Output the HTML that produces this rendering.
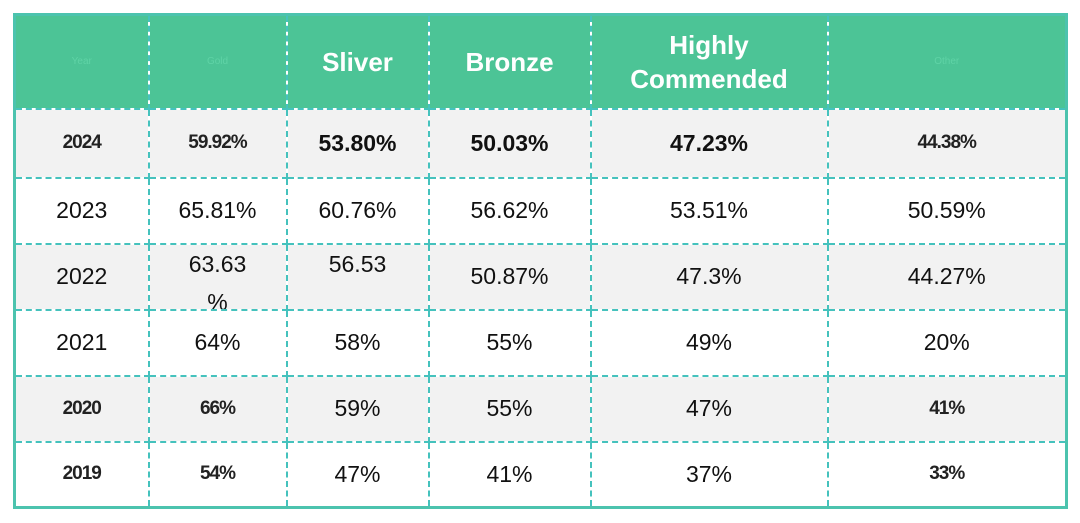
<!DOCTYPE html>
<html><head><meta charset="utf-8"><style>
body{margin:0;width:1080px;height:523px;background:#fff;font-family:"Liberation Sans","DejaVu Sans",sans-serif;overflow:hidden}
table{position:absolute;left:13px;top:13px;width:1054px;height:496px;border-collapse:collapse;border:3px solid #4cc3ae;table-layout:fixed}
td,th{border:2px dashed #45c2bd;text-align:center;font-size:23px;color:#111;padding:0;overflow:hidden}
th{background:#4cc496;color:#fff;font-weight:bold;font-size:26px;line-height:34px}
th.f{color:#5fd3a6;font-size:10px;font-weight:normal}
tr.g td{background:#f2f2f2}
td.b{font-weight:bold}
td.x{font-weight:bold;letter-spacing:-1px;font-size:19px;color:#222}
.clip{height:64px;overflow:hidden;line-height:38px}
</style></head><body>
<table>
<colgroup><col style="width:134px"><col style="width:138px"><col style="width:142px"><col style="width:162px"><col style="width:237px"><col style="width:239px"></colgroup>
<tr style="height:94px">
<th class="f">Year</th>
<th class="f">Gold</th>
<th>Sliver</th>
<th>Bronze</th>
<th>Highly<br>Commended</th>
<th class="f">Other</th>
</tr>
<tr class="g" style="height:69px">
<td class="x">2024</td>
<td class="x">59.92%</td>
<td class="b">53.80%</td>
<td class="b">50.03%</td>
<td class="b">47.23%</td>
<td class="x">44.38%</td>
</tr>
<tr style="height:66px">
<td>2023</td><td>65.81%</td><td>60.76%</td><td>56.62%</td><td>53.51%</td><td>50.59%</td>
</tr>
<tr class="g" style="height:66px">
<td>2022</td>
<td style="vertical-align:top"><div class="clip">63.63<br>%</div></td>
<td style="vertical-align:top"><div class="clip">56.53</div></td>
<td>50.87%</td><td>47.3%</td><td>44.27%</td>
</tr>
<tr style="height:66px">
<td>2021</td><td>64%</td><td>58%</td><td>55%</td><td>49%</td><td>20%</td>
</tr>
<tr class="g" style="height:66px">
<td class="x">2020</td><td class="x">66%</td><td>59%</td><td>55%</td><td>47%</td><td class="x">41%</td>
</tr>
<tr style="height:66px">
<td class="x">2019</td><td class="x">54%</td><td>47%</td><td>41%</td><td>37%</td><td class="x">33%</td>
</tr>
</table>
</body></html>
